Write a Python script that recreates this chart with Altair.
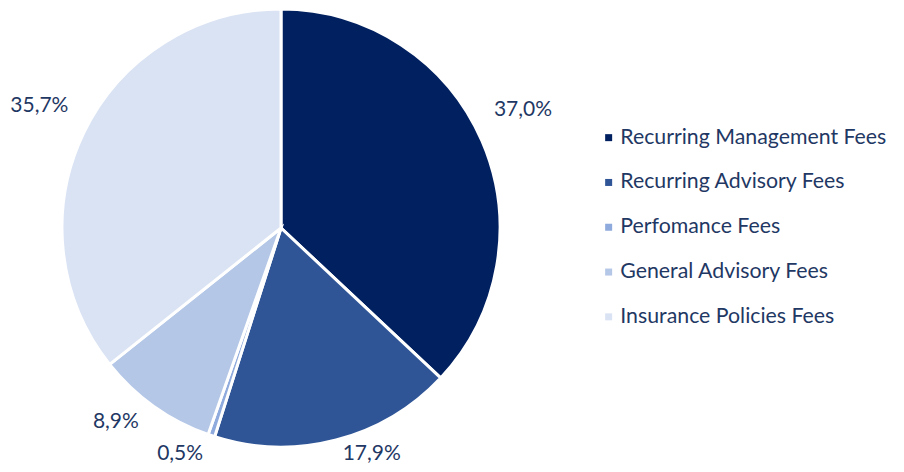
import math
import altair as alt
import pandas as pd

categories = ["Recurring Management Fees", "Recurring Advisory Fees", "Perfomance Fees",
              "General Advisory Fees", "Insurance Policies Fees"]
values = [37.0, 17.9, 0.5, 8.9, 35.7]
labels = ["37,0%", "17,9%", "0,5%", "8,9%", "35,7%"]
colors = ["#002060", "#2F5597", "#8FAADC", "#B4C7E7", "#DAE3F3"]

df = pd.DataFrame({"category": categories, "value": values, "label": labels,
                   "order": list(range(len(categories)))})

text_color = "#1F3864"
font = "Lato"
cx, cy = 273, 220
total = sum(values)

pie = alt.Chart(df).mark_arc(outerRadius=219, stroke="white", strokeWidth=3).encode(
    x=alt.value(cx), y=alt.value(cy),
    theta=alt.Theta("value:Q", stack=True),
    order=alt.Order("order:Q"),
    color=alt.Color("category:N", sort=categories,
                    scale=alt.Scale(domain=categories, range=colors),
                    legend=alt.Legend(title=None, orient="none", legendX=590, legendY=119,
                                      symbolType="square", symbolSize=49, symbolStrokeWidth=0,
                                      labelFontSize=21.3, labelFont=font, labelColor=text_color,
                                      rowPadding=22.8, labelOffset=1, labelLimit=400)),
)

# label anchor: mid-angle of each slice, as a fraction of the whole
lab = alt.Chart(df).transform_window(
    cum="sum(value)", sort=[alt.SortField("order")], frame=[None, 0]
).transform_calculate(
    mid=f"(datum.cum - datum.value / 2) / {total}"
)

# (filter, align, radius, dy) per quadrant
quadrants = [
    ("datum.mid < 0.25", "left", 232, -26),
    ("datum.mid >= 0.25 && datum.mid < 0.5", "left", 245, -11),
    ("datum.mid >= 0.5 && datum.mid < 0.75", "right", 245, -6),
    ("datum.mid >= 0.75", "right", 236, -20),
]
text_layers = []
for cond, al, r, dy in quadrants:
    text_layers.append(
        lab.transform_filter(cond).mark_text(
            radius=r, dy=dy, fontSize=21, font=font, color=text_color,
            align=al, baseline="middle"
        ).encode(
            x=alt.value(cx), y=alt.value(cy),
            theta=alt.Theta("mid:Q", stack=None,
                            scale=alt.Scale(domain=[0, 1], range=[0, 2 * math.pi])),
            text="label:N",
        )
    )

texts = alt.layer(*text_layers)

chart = alt.layer(pie, texts).resolve_scale(theta="independent").properties(
    width=888, height=456, padding=0,
    autosize=alt.AutoSizeParams(type="none"),
).configure_view(stroke=None)
chart.save("out.html", embed_options={"renderer": "svg", "actions": False})
